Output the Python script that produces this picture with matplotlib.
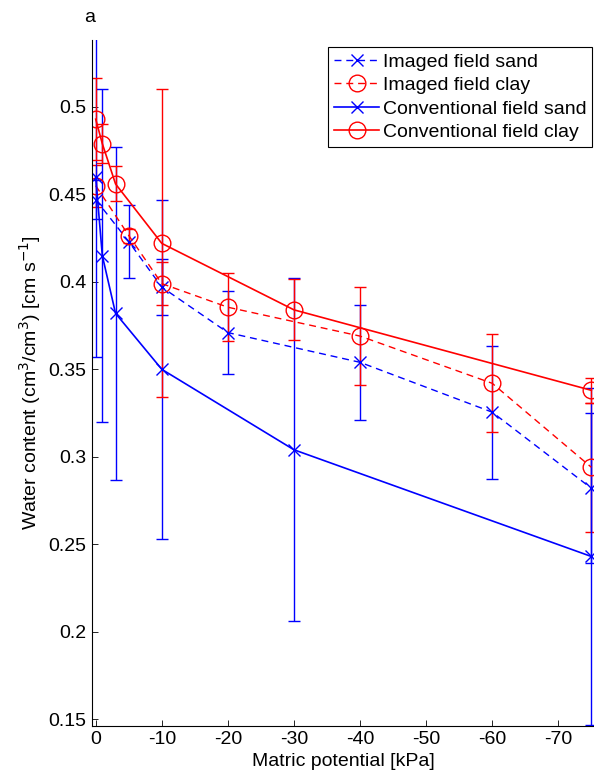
import numpy as np
import matplotlib
matplotlib.use("Agg")
import matplotlib.pyplot as plt
from matplotlib.lines import Line2D
from matplotlib.ticker import FuncFormatter

# =============================
# DATA
# =============================
img_x       = [0, -5, -10, -20, -40, -60, -75]
img_sand    = [0.447, 0.423, 0.397, 0.371, 0.354, 0.3255, 0.282]
img_sand_e  = [0.011, 0.021, 0.016, 0.0235, 0.033, 0.038, 0.043]
img_clay    = [0.455, 0.4265, 0.399, 0.3855, 0.369, 0.342, 0.294]
img_clay_e  = [0.012, 0.004, 0.0125, 0.0195, 0.028, 0.028, 0.037]

conv_x      = [0, -1, -3, -10, -30, -75]
conv_sand   = [0.460, 0.415, 0.382, 0.350, 0.304, 0.243]
conv_sand_e = [0.103, 0.095, 0.095, 0.097, 0.098, 0.0965]
conv_clay   = [0.493, 0.479, 0.456, 0.422, 0.384, 0.338]
conv_clay_e = [0.0235, 0.011, 0.010, 0.088, 0.0175, 0.007]

labels = ["Imaged field sand", "Imaged field clay",
          "Conventional field sand", "Conventional field clay"]
x_ticks = [0, -10, -20, -30, -40, -50, -60, -70]
y_ticks = [0.15, 0.2, 0.25, 0.3, 0.35, 0.4, 0.45, 0.5]

# =============================
# STYLE
# =============================
plt.rcParams['font.family'] = ['Liberation Sans', 'DejaVu Sans']
plt.rcParams['axes.unicode_minus'] = False
FS = 14
DASH = (0, (5, 3.5))

fig = plt.figure(figsize=(5.94, 7.79), dpi=100)
ax = fig.add_axes([0.1549, 0.0683, 0.8451, 0.8804])

common = dict(capsize=4.3, elinewidth=1.0, capthick=1.0, mfc='none', mew=1.0)
styles = [
    dict(color='b', ls=DASH, lw=1.0, marker='x', ms=9),
    dict(color='r', ls=DASH, lw=1.0, marker='o', ms=12),
    dict(color='b', ls='-', lw=1.2, marker='x', ms=9),
    dict(color='r', ls='-', lw=1.2, marker='o', ms=12),
]

ax.errorbar(img_x, img_sand, yerr=img_sand_e, **styles[0], **common)
ax.errorbar(img_x, img_clay, yerr=img_clay_e, **styles[1], **common)
ax.errorbar(conv_x, conv_sand, yerr=conv_sand_e, **styles[2], **common)
ax.errorbar(conv_x, conv_clay, yerr=conv_clay_e, **styles[3], **common)

ax.set_xlim(0.56, -75.4)
ax.set_ylim(0.1462, 0.5383)
ax.set_xticks(x_ticks)
ax.set_yticks(y_ticks)
ax.yaxis.set_major_formatter(FuncFormatter(lambda v, p: f"{v:g}"))
ax.xaxis.set_major_formatter(FuncFormatter(lambda v, p: f"{v:g}"))
ax.tick_params(direction='in', length=4, width=0.6, labelsize=FS,
               colors='black', pad=4)
for side in ['top', 'right']:
    ax.spines[side].set_visible(False)
for side in ['left', 'bottom']:
    ax.spines[side].set_linewidth(0.8)

ax.set_xlabel("Matric potential [kPa]", fontsize=FS, labelpad=3)
ax.set_ylabel("Water content (cm$^3$/cm$^3$) [cm s$^{-1}$]", fontsize=FS,
              labelpad=4)

fig.text(90 / 594, 1 - 17 / 779, "a", fontsize=FS, ha='center', va='center')

# legend shows line + marker only (no error bars)
handles = [Line2D([], [], mfc='none', mew=1.0, **s) for s in styles]
leg = ax.legend(handles, labels, loc='upper right',
                bbox_to_anchor=(0.9968, 0.9894),
                fontsize=FS, handlelength=2.3, handletextpad=0.2,
                borderpad=0.3, labelspacing=0.3, borderaxespad=0,
                fancybox=False, framealpha=1, edgecolor='black')
leg.get_frame().set_linewidth(0.8)

fig.savefig("out.png", dpi=100)
